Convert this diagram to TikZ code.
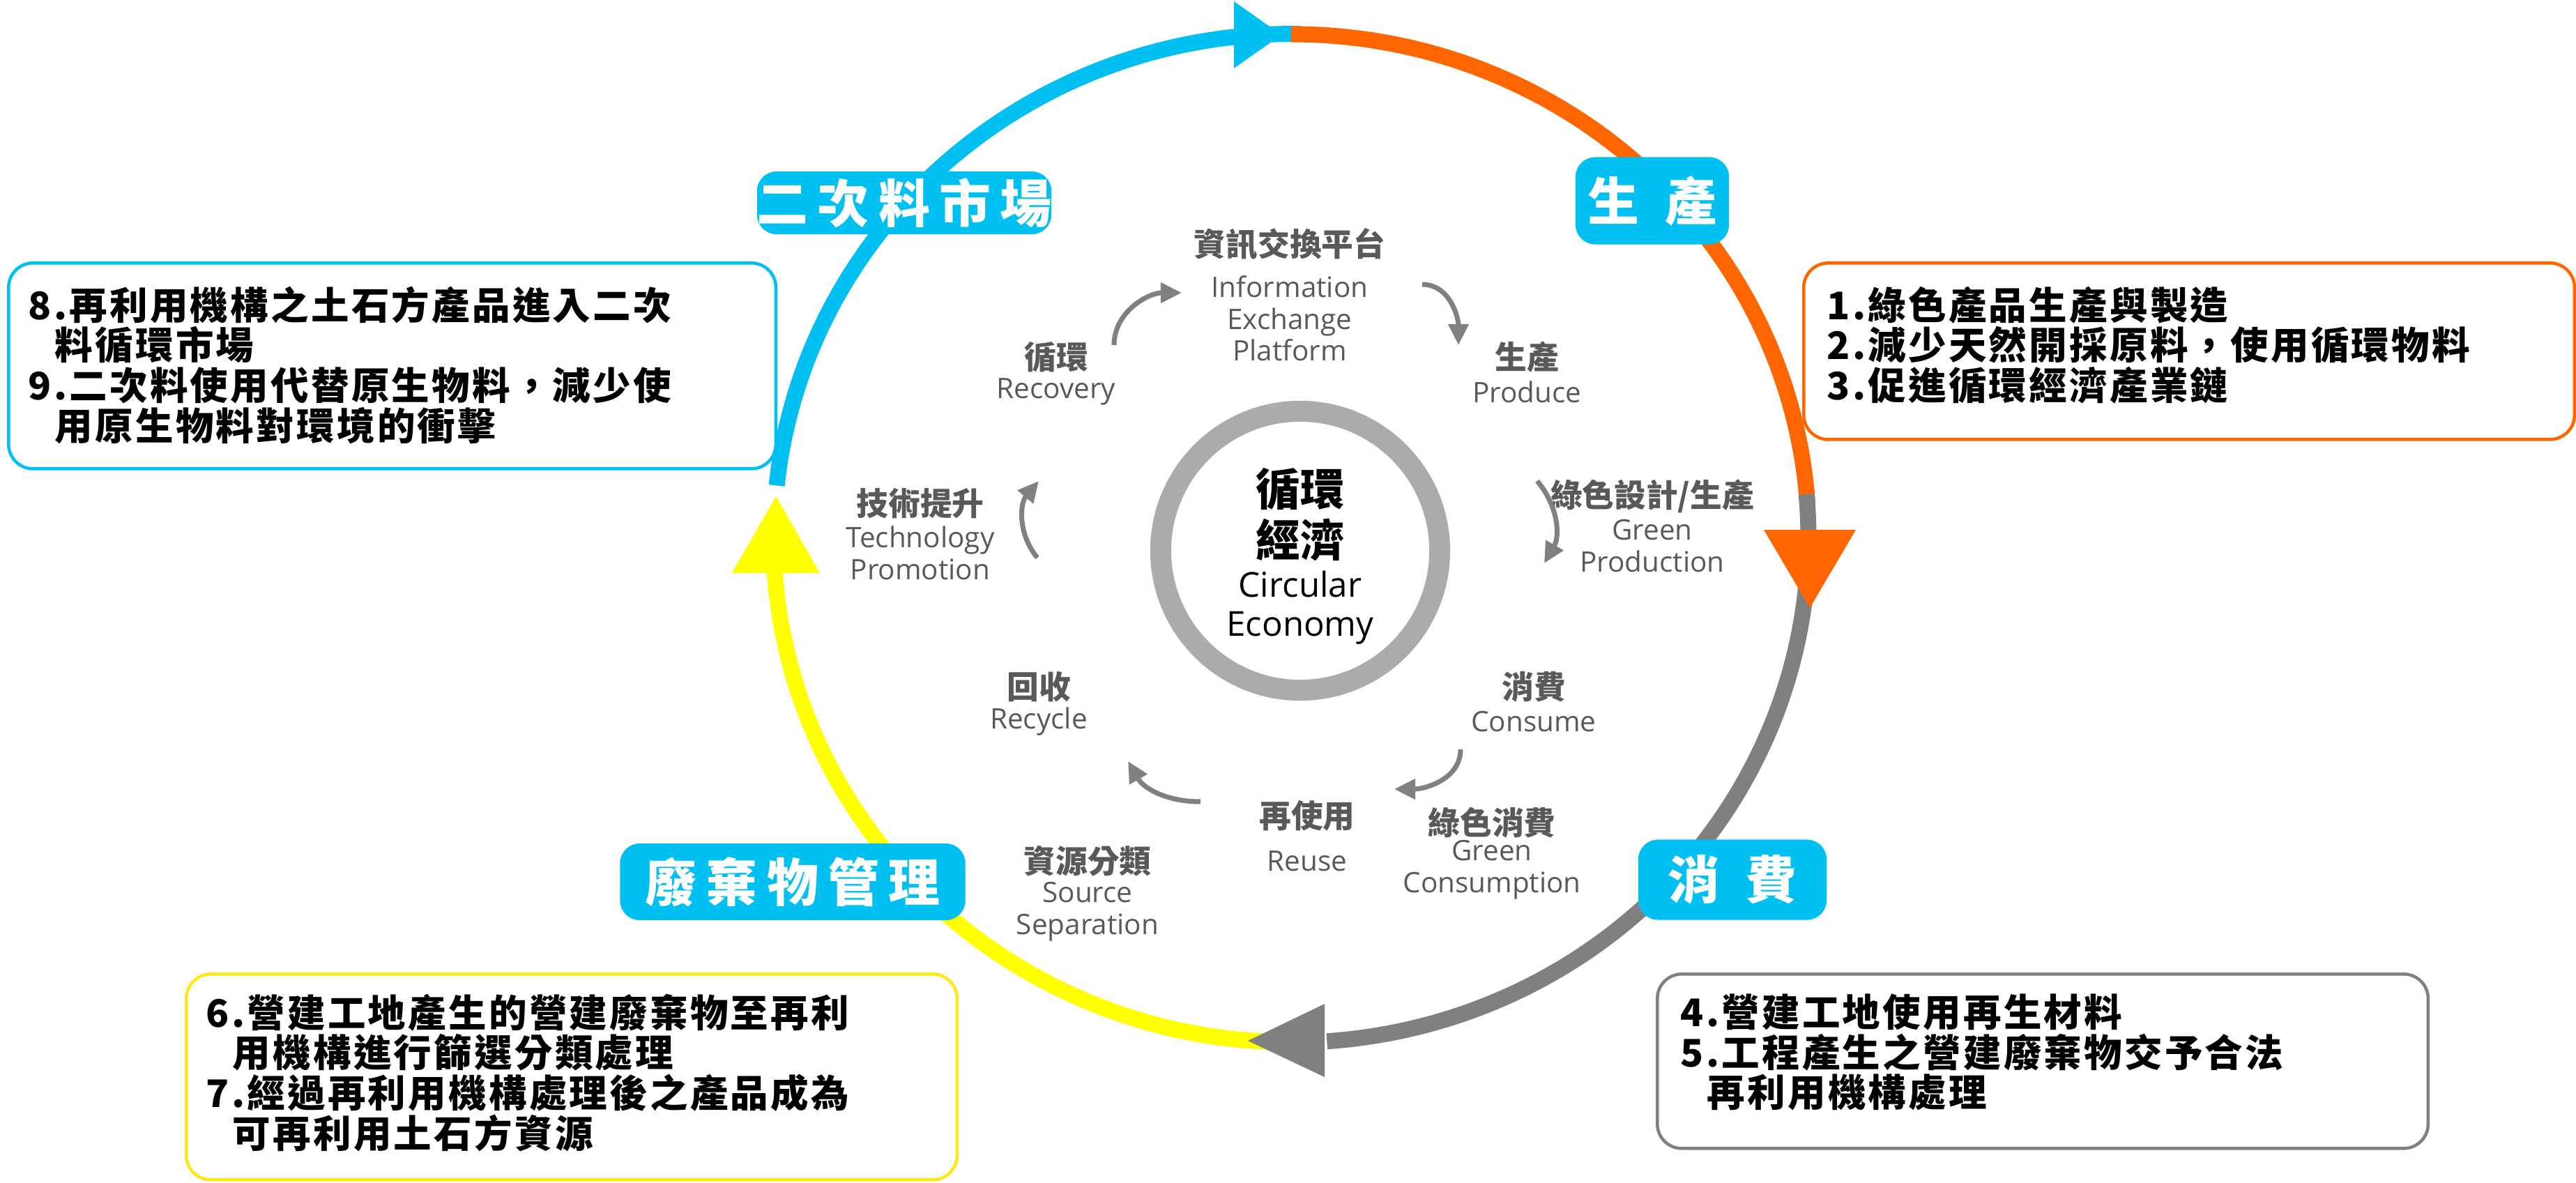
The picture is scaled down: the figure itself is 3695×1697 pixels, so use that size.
\documentclass[tikz,border=0pt]{standalone}
\usetikzlibrary{arrows.meta}
\usepackage{fontspec}
\setmainfont{Noto Sans CJK TC}
\newfontfamily\en{Open Sans}
\definecolor{cb}{HTML}{00C0F2}
\definecolor{co}{HTML}{FF6600}
\definecolor{cg}{HTML}{808080}
\definecolor{cy}{HTML}{FFFF00}
\definecolor{cyb}{HTML}{FFE81A}
\definecolor{tg}{HTML}{595959}
\definecolor{ring}{HTML}{ABABAB}
\begin{document}
\begin{tikzpicture}[x=0.01cm,y=-0.01cm,
  lab/.style={fill=cb,rounded corners=8pt,text=white,font=\fontsize{21}{24}\selectfont\bfseries\addfontfeature{LetterSpace=18},inner sep=0pt},
  tbox/.style={draw,line width=0.045cm,rounded corners=10pt,anchor=north west,inner sep=0pt},
  btxt/.style={anchor=north west,align=left,inner sep=0pt,font=\fontsize{15.5}{16.4}\selectfont\bfseries\addfontfeature{LetterSpace=6}},
  zh/.style={font=\fontsize{13}{15}\selectfont\bfseries,text=tg},
  en/.style={font=\fontsize{11.5}{13}\selectfont\en,text=tg,align=center},
  sarr/.style={draw=cg,line width=0.07cm,-{Triangle[length=0.3cm,width=0.28cm]}}]
\useasboundingbox (0,0) rectangle (3695,1697);
\def\rx{742}\def\ry{723}
\coordinate (C) at (1852,772);
% arcs
\draw[cb,line width=0.23cm] ([shift={(174:\rx*0.01cm and \ry*0.01cm)}]C) arc[start angle=174,end angle=89,x radius=7.42cm,y radius=7.23cm];
\draw[co,line width=0.23cm] ([shift={(90:\rx*0.01cm and \ry*0.01cm)}]C) arc[start angle=90,end angle=4,x radius=7.42cm,y radius=7.23cm];
\draw[cg,line width=0.23cm] ([shift={(5:\rx*0.01cm and \ry*0.01cm)}]C) arc[start angle=5,end angle=-86,x radius=7.42cm,y radius=7.23cm];
\draw[cy,line width=0.23cm] ([shift={(-87:\rx*0.01cm and \ry*0.01cm)}]C) arc[start angle=-87,end angle=-182,x radius=7.42cm,y radius=7.23cm];
% arrowheads
\fill[cb] (1770,2) -- (1838,50) -- (1770,98) -- cycle;
\fill[co] (2530,760) -- (2662,760) -- (2596,872) -- cycle;
\fill[cg] (1900,1440) -- (1900,1545) -- (1790,1493) -- cycle;
\fill[cy] (1050,822) -- (1176,822) -- (1113,712) -- cycle;
% labels
\node[lab,minimum width=4.15cm,minimum height=0.9cm] (l1) at (1297,291) {二次料市場};
\node[lab,minimum width=2.2cm,minimum height=1.25cm] (l2) at (2370,288) {生\hspace{0.5em}產};
\node[lab,minimum width=2.7cm,minimum height=1.15cm] (l3) at (2485,1262) {消\hspace{0.5em}費};
\node[lab,minimum width=4.95cm,minimum height=1.1cm] (l4) at (1137,1265) {廢棄物管理};
% text boxes
\node[tbox,draw=cb,minimum width=11.0cm,minimum height=2.95cm] (b1) at (10,375) {};
\node[btxt] (t1) at (40,410) {8.再利用機構之土石方產品進入二次\\\hspace{0.7em}料循環市場\\9.二次料使用代替原生物料，減少使\\\hspace{0.7em}用原生物料對環境的衝擊};
\node[tbox,draw=co,minimum width=11.05cm,minimum height=2.53cm] (b2) at (2585,375) {};
\node[btxt] (t2) at (2620,410) {1.綠色產品生產與製造\\2.減少天然開採原料，使用循環物料\\3.促進循環經濟產業鏈};
\node[tbox,draw=cg,minimum width=11.05cm,minimum height=2.5cm] (b3) at (2375,1395) {};
\node[btxt] (t3) at (2410,1425) {4.營建工地使用再生材料\\5.工程產生之營建廢棄物交予合法\\\hspace{0.7em}再利用機構處理};
\node[tbox,draw=cyb,minimum width=11.05cm,minimum height=2.95cm] (b4) at (265,1395) {};
\node[btxt] (t4) at (295,1425) {6.營建工地產生的營建廢棄物至再利\\\hspace{0.7em}用機構進行篩選分類處理\\7.經過再利用機構處理後之產品成為\\\hspace{0.7em}可再利用土石方資源};
% inner ring
\draw[ring,line width=0.3cm] (1865,790) circle[radius=2.0cm];
\node[font=\fontsize{18}{21}\selectfont\bfseries,align=center] (c1) at (1865,738) {循環\\經濟};
\node[font=\fontsize{14}{16}\selectfont\en,align=center] (c2) at (1865,872) {Circular\\Economy};
% inner labels
\node[zh] (i1) at (1850,350) {資訊交換平台};
\node[en] (e1) at (1850,457) {Information\\Exchange\\Platform};
\node[zh] (i2) at (2190,512) {生產};
\node[en] (e2) at (2190,562) {Produce};
\node[zh] (i3) at (2370,712) {綠色設計/生產};
\node[en] (e3) at (2370,783) {Green\\Production};
\node[zh] (i4) at (2200,985) {消費};
\node[en] (e4) at (2200,1035) {Consume};
\node[zh] (i5) at (2140,1180) {綠色消費};
\node[en] (e5) at (2140,1248) {Green\\Consumption};
\node[zh] (i6) at (1875,1170) {再使用};
\node[en] (e6) at (1875,1235) {Reuse};
\node[zh] (i7) at (1560,1235) {資源分類};
\node[en] (e7) at (1560,1308) {Source\\Separation};
\node[zh] (i8) at (1490,985) {回收};
\node[en] (e8) at (1490,1035) {Recycle};
\node[zh] (i9) at (1320,722) {技術提升};
\node[en] (e9) at (1320,793) {Technology\\Promotion};
\node[zh] (i10) at (1515,512) {循環};
\node[en] (e10) at (1515,562) {Recovery};
% small arrows
\coordinate (a1s) at (1598,495); \coordinate (a1e) at (1695,420);
\coordinate (a2s) at (2040,408); \coordinate (a2e) at (2092,495);
\coordinate (a3s) at (2205,690); \coordinate (a3e) at (2215,808);
\coordinate (a4s) at (2095,1075); \coordinate (a4e) at (2000,1132);
\coordinate (a5s) at (1722,1150); \coordinate (a5e) at (1618,1092);
\coordinate (a6s) at (1488,800); \coordinate (a6e) at (1490,690);
\draw[sarr] (a1s) to[out=90,in=180] (a1e);
\draw[sarr] (a2s) to[out=0,in=90] (a2e);
\draw[sarr] (a3s) to[out=-50,in=60] (a3e);
\draw[sarr] (a4s) to[out=-90,in=0] (a4e);
\draw[sarr] (a5s) to[out=180,in=-60] (a5e);
\draw[sarr] (a6s) to[out=130,in=-130] (a6e);
\end{tikzpicture}
\end{document}
